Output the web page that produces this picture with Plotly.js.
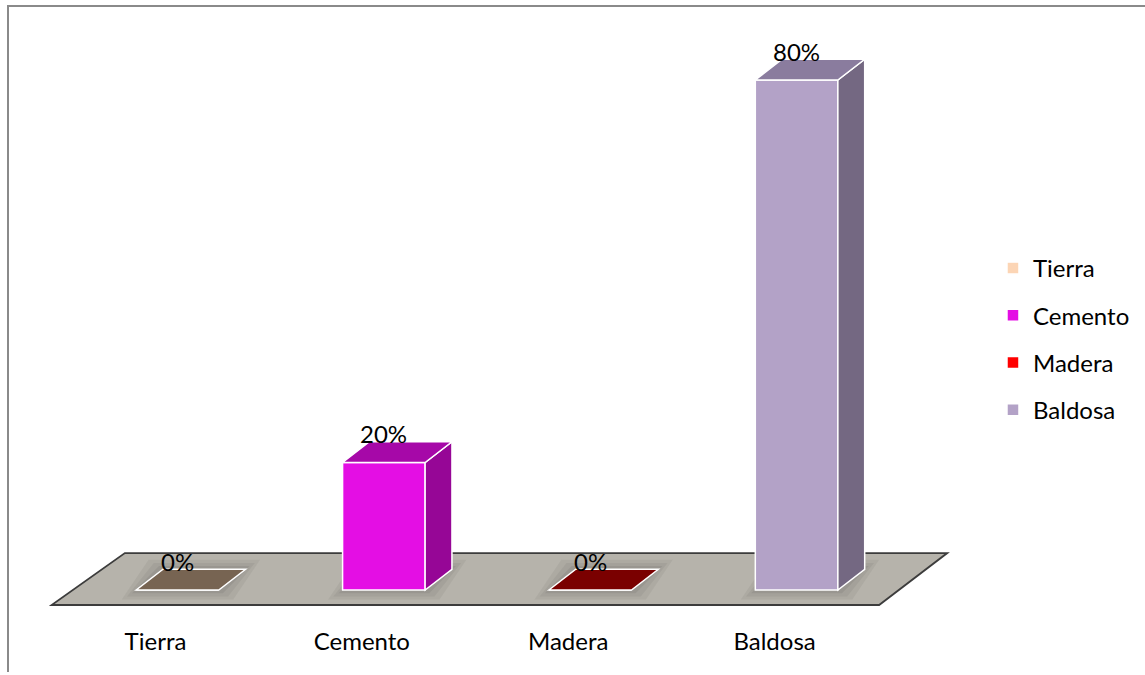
<!DOCTYPE html>
<html>
<head>
<meta charset="utf-8">
<script src="https://cdn.plot.ly/plotly-3.0.1.min.js"></script>
<style>
html,body{margin:0;padding:0;background:#fff;}
#wrap{position:relative;width:1145px;height:675px;overflow:hidden;}
#chart{position:absolute;left:0;top:0;width:1145px;height:675px;}
#frame{position:absolute;left:7px;top:5px;width:1145px;height:665px;border-left:2px solid #8a8a8a;border-top:2px solid #8a8a8a;pointer-events:none;}
</style>
</head>
<body>
<div id="wrap"><div id="chart"></div><div id="frame"></div></div>
<script>
// ---- data ----
const categories = ['Tierra', 'Cemento', 'Madera', 'Baldosa'];
const values = [0, 20, 0, 80];
const valueLabels = ['0%', '20%', '0%', '80%'];
const frontColors = ['#fcd5b5', '#e40ee4', '#ff0000', '#b3a2c7'];
const topColors = ['#776452', '#a608a8', '#7a0000', '#8a7c9e'];
const sideColors = ['#7a6a58', '#960696', '#6a0000', '#746882'];

// ---- geometry (style, not data) ----
const positions = categories.map((c, i) => i);
const barW = 0.40;
const dX = 0.13;   // depth offset in category units
const dY = 3.25;   // depth offset in value units
const FONT = 'Lato, "Noto Sans", sans-serif';
const FS = 24;

const traces = categories.map((c, i) => ({
  type: 'bar',
  name: c,
  x: [positions[i]],
  y: [values[i]],
  width: barW,
  marker: {color: frontColors[i], line: {color: '#ffffff', width: 1.5}},
  legendgroup: c,
  hoverinfo: 'skip'
}));

const shapes = [];
// floor
const fl = {x0: -0.61, x1: 3.40, bx0: -0.255, bx1: 3.73, y0: -2.35, y1: 5.8};
shapes.push({
  type: 'path', xref: 'x', yref: 'y', layer: 'below',
  path: `M ${fl.x0},${fl.y0} L ${fl.x1},${fl.y0} L ${fl.bx1},${fl.y1} L ${fl.bx0},${fl.y1} Z`,
  fillcolor: '#b6b3ab', line: {color: '#3c3c3c', width: 1.8}
});
// soft shadows around bars on the floor (layered for softness)
[[0.07, 1.5, 0.07], [0.045, 1.0, 0.08], [0.02, 0.5, 0.10]].forEach(([ex, ey, op]) => {
  categories.forEach((c, i) => {
    const xl = positions[i] - barW / 2, xr = positions[i] + barW / 2;
    shapes.push({
      type: 'path', xref: 'x', yref: 'y', layer: 'below',
      path: `M ${xl-ex},${-ey} L ${xr+ex},${-ey} L ${xr+dX+ex},${dY+ey} L ${xl+dX-ex},${dY+ey} Z`,
      fillcolor: `rgba(60,60,60,${op})`, line: {width: 0}
    });
  });
});
categories.forEach((c, i) => {
  const v = values[i];
  const xl = positions[i] - barW / 2, xr = positions[i] + barW / 2;
  if (v > 0) {
    shapes.push({
      type: 'path', xref: 'x', yref: 'y', layer: 'above',
      path: `M ${xr},0 L ${xr},${v} L ${xr+dX},${v+dY} L ${xr+dX},${dY} Z`,
      fillcolor: sideColors[i], line: {color: '#ffffff', width: 1.5}
    });
  }
  shapes.push({
    type: 'path', xref: 'x', yref: 'y', layer: 'above',
    path: `M ${xl},${v} L ${xr},${v} L ${xr+dX},${v+dY} L ${xl+dX},${v+dY} Z`,
    fillcolor: topColors[i], line: {color: '#ffffff', width: 1.5}
  });
});

const annotations = categories.map((c, i) => ({
  x: positions[i], y: values[i], xref: 'x', yref: 'y',
  text: valueLabels[i], showarrow: false, yshift: 29,
  font: {family: FONT, size: FS, color: '#000'}
}));

const pxPerCat = 207, x0px = 178, yZero = 590, pxPerVal = 6.375;
const L = 10, R = 155, T = 40, B = 60, W = 1145, H = 675;
const layout = {
  width: W, height: H,
  margin: {l: L, r: R, t: T, b: B},
  paper_bgcolor: 'rgba(0,0,0,0)', plot_bgcolor: 'rgba(0,0,0,0)',
  barmode: 'overlay',
  showlegend: true,
  legend: {
    x: (996 - L) / (W - L - R), xanchor: 'left',
    y: (H - B - 246) / (H - T - B), yanchor: 'top',
    font: {family: FONT, size: FS, color: '#000'},
    tracegroupgap: 13, itemwidth: 30, bgcolor: 'rgba(0,0,0,0)'
  },
  xaxis: {
    range: [(L - x0px) / pxPerCat, (W - R - x0px) / pxPerCat],
    tickvals: positions, ticktext: categories,
    showgrid: false, zeroline: false, showline: false, ticks: '',
    ticklabelshift: -22, ticklabelstandoff: 10,
    tickfont: {family: FONT, size: FS, color: '#000'}, fixedrange: true
  },
  yaxis: {
    range: [(yZero - (H - B)) / pxPerVal, (yZero - T) / pxPerVal],
    showgrid: false, zeroline: false, showline: false, showticklabels: false, ticks: '', fixedrange: true
  },
  shapes: shapes,
  annotations: annotations,
  font: {family: FONT}
};
Plotly.newPlot('chart', traces, layout, {displayModeBar: false, staticPlot: true});
</script>
</body>
</html>
